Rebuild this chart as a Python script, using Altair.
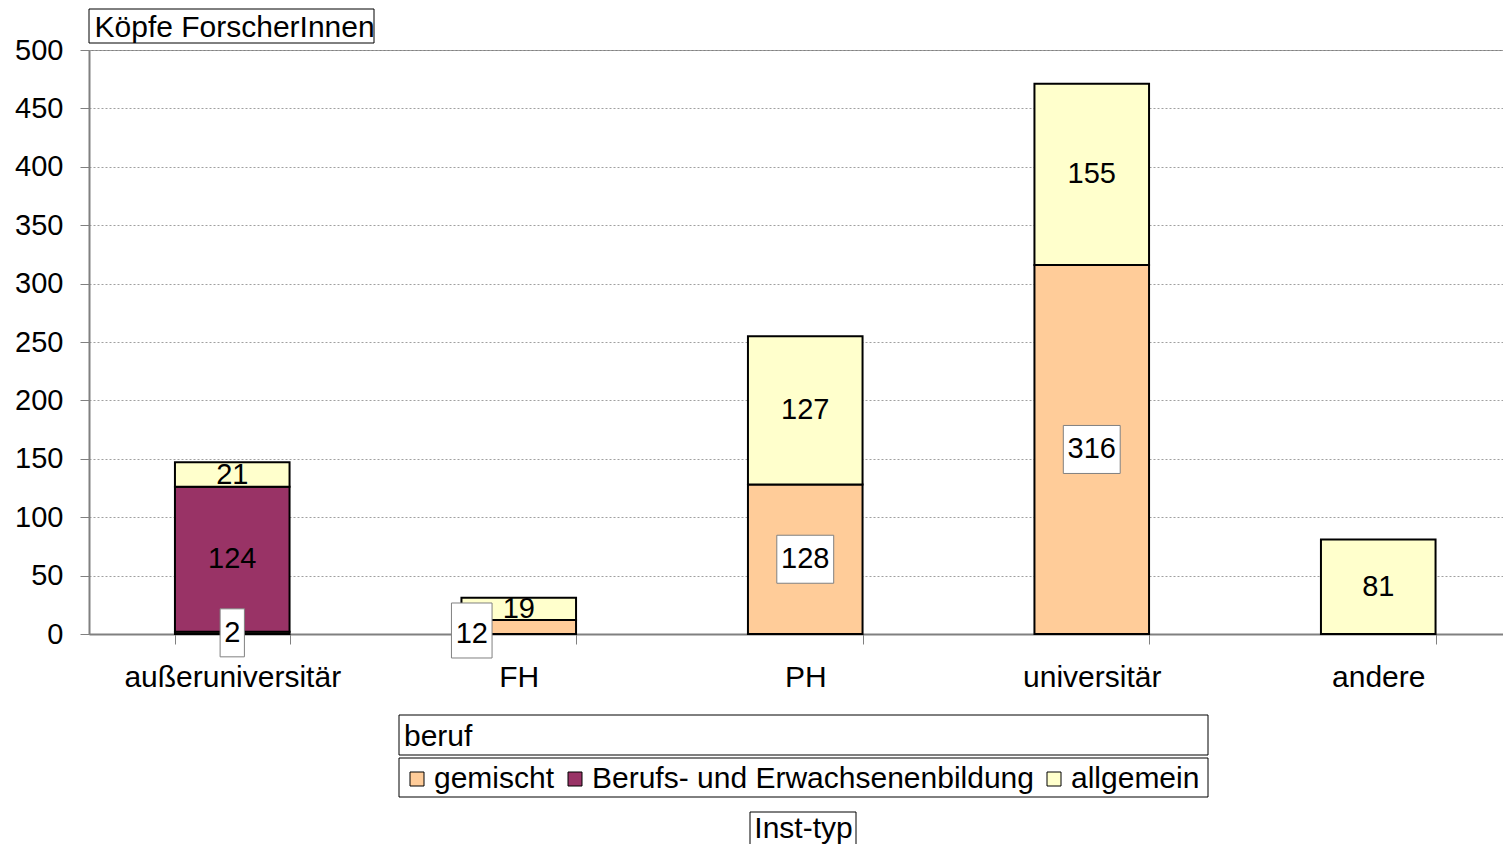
import altair as alt
import pandas as pd

# ---- data ----
categories = ["außeruniversitär", "FH", "PH", "universitär", "andere"]
series = ["gemischt", "Berufs- und Erwachsenenbildung", "allgemein"]
gemischt = [2, 12, 128, 316, 0]
berufs = [124, 0, 0, 0, 0]
allgemein = [21, 19, 127, 155, 81]
colors = ["#FFCC99", "#993366", "#FFFFCC"]
y_ticks = list(range(0, 501, 50))

# ---- layout constants ----
W, H = 1432.5, 584
YMAX = 500
UPX = YMAX / H          # data units per pixel
BOX_H = 48              # label box height (px)
FS = 29                 # font size for numbers
FT = 30                 # font size for words

rows = []
for i, c in enumerate(categories):
    base = 0
    for j, (s, vals) in enumerate(zip(series, [gemischt, berufs, allgemein])):
        v = vals[i]
        if v > 0:
            rows.append(dict(cat=c, beruf=s, ord=j, v=v, lo=base, hi=base + v,
                             mid=base + v / 2, digits=len(str(v))))
        base += v
df = pd.DataFrame(rows)
df["blo"] = df["mid"] - BOX_H / 2 * UPX
df["bhi"] = df["mid"] + BOX_H / 2 * UPX
df["bw"] = 8 + 16.3 * df["digits"]

gem = df[df["beruf"] == "gemischt"]
gem_main = gem[gem["cat"] != "FH"]
gem_fh = gem[gem["cat"] == "FH"]
other = df[df["beruf"] != "gemischt"]

yscale = alt.Scale(domain=[0, YMAX], nice=False, zero=True)
yaxis = alt.Axis(values=y_ticks, format="d", title="Köpfe ForscherInnen",
                 titleAngle=0, titleAlign="left", titleBaseline="alphabetic",
                 titleX=5, titleY=-14, titleFontSize=FT, titleFontWeight="normal",
                 titleColor="black", labelFontSize=FS, labelColor="black",
                 labelPadding=17, tickSize=9, tickColor="#808080",
                 domainColor="#808080", domainWidth=2, grid=True,
                 gridColor="#A0A0A0", gridDash=[2, 2], gridWidth=1)
xscale = alt.Scale(domain=categories, paddingInner=0.6, paddingOuter=0.3)
xaxis = alt.Axis(title="Inst-typ", labelAngle=0, labelFontSize=FT, labelColor="black",
                 labelBaseline="alphabetic", labelPadding=42, tickSize=10,
                 tickBand="extent", tickColor="#808080", domainColor="#808080",
                 domainWidth=2, titleFontSize=FT, titleFontWeight="normal",
                 titleColor="black", titleX=714, titleY=203, titleAlign="center",
                 titleBaseline="alphabetic", grid=False, labelLimit=400)

X = alt.X("cat:N", scale=xscale, axis=xaxis, sort=categories)


def Y(field):
    return alt.Y(field, scale=yscale, axis=yaxis)


bars = alt.Chart(df).mark_bar(stroke="black", strokeWidth=2).encode(
    x=X,
    y=Y("lo:Q"),
    y2="hi:Q",
    color=alt.Color(
        "beruf:N",
        scale=alt.Scale(domain=series, range=colors),
        legend=alt.Legend(orient="none", legendX=315, legendY=672,
                          direction="horizontal", title="beruf",
                          titleFontSize=FT, titleFontWeight="normal",
                          titleColor="black", titlePadding=12, titleAnchor="start",
                          labelFontSize=FT, labelColor="black", labelLimit=1000,
                          symbolType="square", symbolSize=196,
                          symbolStrokeColor="black", symbolStrokeWidth=1,
                          symbolOffset=-2, labelOffset=2, columnPadding=7,
                          padding=0),
    ),
)

box_main = alt.Chart(gem_main).mark_bar(fill="white", stroke="#808080", strokeWidth=1).encode(
    x=X, y=Y("blo:Q"), y2="bhi:Q", size=alt.Size("bw:Q", scale=None))
box_fh = alt.Chart(gem_fh).mark_bar(fill="white", stroke="#808080", strokeWidth=1,
                                    xOffset=-47, yOffset=7).encode(
    x=X, y=Y("blo:Q"), y2="bhi:Q", size=alt.Size("bw:Q", scale=None))

txt_gem = alt.Chart(gem_main).mark_text(fontSize=FS, baseline="middle", color="black").encode(
    x=X, y=Y("mid:Q"), text="v:Q")
txt_fh = alt.Chart(gem_fh).mark_text(fontSize=FS, baseline="middle", color="black",
                                     dx=-47, dy=7).encode(
    x=X, y=Y("mid:Q"), text="v:Q")
txt_other = alt.Chart(other).mark_text(fontSize=FS, baseline="middle", color="black").encode(
    x=X, y=Y("mid:Q"), text="v:Q")

one = pd.DataFrame({"k": [0]})


def frame(x0, x1, y0, y1):
    return alt.Chart(one).mark_rect(fill="white", fillOpacity=0, stroke="black",
                                    strokeWidth=1).encode(
        x=alt.value(x0), x2=alt.value(x1), y=alt.value(y0), y2=alt.value(y1))


frames = [
    frame(0, 285, -41, -7),        # y-axis title box
    frame(661, 767, 762, 800),     # x-axis title box
    frame(310, 1119, 665, 705),    # legend title box
    frame(310, 1119, 708, 747),    # legend entries box
]

chart = alt.layer(bars, box_main, box_fh, txt_gem, txt_fh, txt_other, *frames).properties(
    width=W, height=H,
    autosize=alt.AutoSizeParams(type="none"),
    padding={"left": 81, "top": 42, "right": -18.5, "bottom": 210},
).configure(font="Liberation Sans").configure_view(stroke="#808080", strokeWidth=1)

chart.save("out.html", embed_options={"renderer": "svg", "actions": False})
